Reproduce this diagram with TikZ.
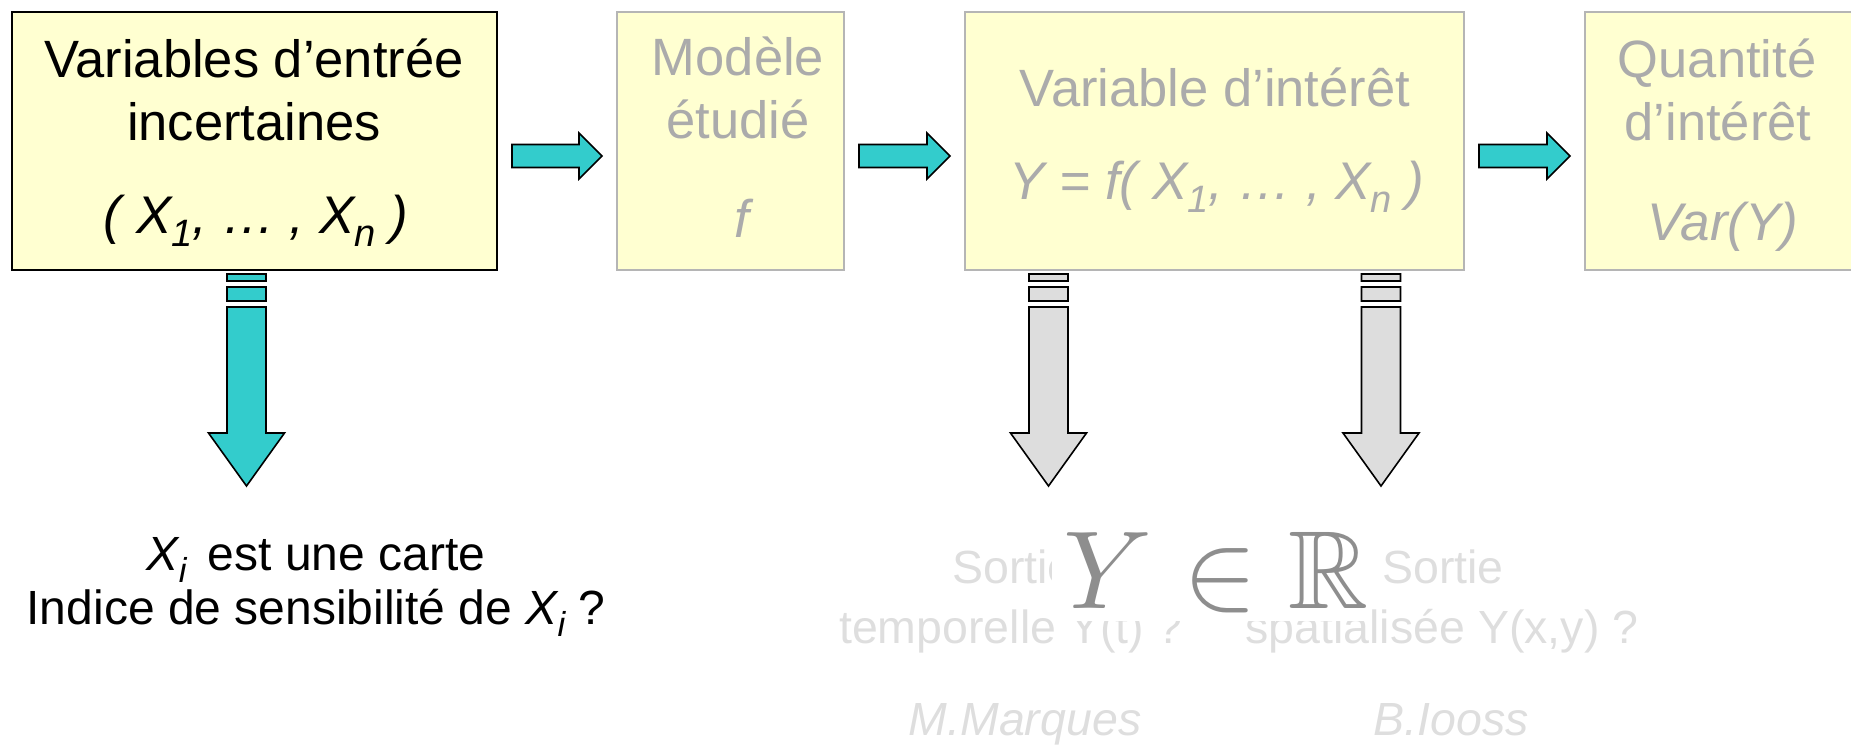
\documentclass[tikz,border=0pt]{standalone}
\usepackage{fontspec}
\usepackage{amssymb}
\setmainfont{Liberation Sans}
\usetikzlibrary{calc}
\definecolor{boxfill}{HTML}{FFFFD1}
\definecolor{fadetext}{HTML}{ABABAB}
\definecolor{fadeborder}{HTML}{B5B5B5}
\definecolor{lighttext}{HTML}{DEDEDE}
\definecolor{cyanarrow}{HTML}{33CCCC}
\definecolor{grayarrow}{HTML}{DDDDDD}
\definecolor{formulagray}{HTML}{8E8E8E}
\newcommand{\lowidx}[1]{\raisebox{-0.25em}{\scalebox{0.72}{#1}}}
% horizontal block arrow between two boxes
\newcommand{\hblock}[3]{%
  \draw[#3] let \p1=(#1.east), \p2=(#2.west) in
    (\x1+15pt,\y1-3.5pt) -- (\x2-38pt,\y1-3.5pt) -- (\x2-38pt,\y1+8pt) --
    (\x2-15pt,\y1-15pt) -- (\x2-38pt,\y1-38pt) -- (\x2-38pt,\y1-26.5pt) --
    (\x1+15pt,\y1-26.5pt) -- cycle;}
% vertical striped block arrow hanging from a coordinate
\newcommand{\vblock}[2]{%
  \draw[#2] let \p1=(#1) in
    (\x1-19.5pt,\y1-4pt) rectangle (\x1+19.5pt,\y1-11pt)
    (\x1-19.5pt,\y1-17pt) rectangle (\x1+19.5pt,\y1-31pt)
    (\x1-19.5pt,\y1-37pt) -- (\x1+19.5pt,\y1-37pt) -- (\x1+19.5pt,\y1-163pt) --
    (\x1+38pt,\y1-163pt) -- (\x1,\y1-216pt) -- (\x1-38pt,\y1-163pt) --
    (\x1-19.5pt,\y1-163pt) -- cycle;}
\tikzset{
  box/.style={line width=1.5pt, fill=boxfill, inner sep=0pt, outer sep=0pt,
              anchor=north west, minimum height=258pt},
  mainbox/.style={box, draw=black},
  fadebox/.style={box, draw=fadeborder},
  txt/.style={anchor=base, inner sep=0pt, outer sep=0pt},
  plaintxt/.style={txt, font=\fontsize{52.5}{60}\selectfont},
  mathtxt/.style={txt, font=\itshape\fontsize{53}{60}\selectfont},
  faded/.style={text=fadetext},
  bottomtxt/.style={txt, font=\fontsize{48}{56}\selectfont},
  lighttxt/.style={txt, text=lighttext, font=\fontsize{46.5}{54}\selectfont},
  cyanarr/.style={draw=black, line width=1.6pt, fill=cyanarrow, line join=miter},
  grayarr/.style={draw=black, line width=1.6pt, fill=grayarrow, line join=miter},
}
\begin{document}
\begin{tikzpicture}[x=1pt,y=-1pt]
\useasboundingbox (0,0) rectangle (1851,744);
% boxes
\node[mainbox, minimum width=485pt] (b1) at (12,12) {};
\node[fadebox, minimum width=227pt] (b2) at (617,12) {};
\node[fadebox, minimum width=499pt] (b3) at (965,12) {};
\node[fadebox, minimum width=272pt] (b4) at (1585,12) {};
% box texts
\node[plaintxt] (b1a) at (254,77) {Variables d’entrée};
\node[plaintxt] (b1b) at (254,140) {incertaines};
\node[mathtxt] (b1c) at (256,233) {( X\lowidx{1}, … , X\lowidx{n} )};
\node[plaintxt, faded] (b2a) at (738,75) {Modèle};
\node[plaintxt, faded] (b2b) at (738,138) {étudié};
\node[mathtxt, faded] (b2c) at (742,237) {f};
\node[plaintxt, faded] (b3a) at (1215,106) {Variable d’intérêt};
\node[mathtxt, faded] (b3b) at (1217,199) {Y = f( X\lowidx{1}, … , X\lowidx{n} )};
\node[plaintxt, faded] (b4a) at (1717,77) {Quantité};
\node[plaintxt, faded] (b4b) at (1718,140) {d’intérêt};
\node[mathtxt, faded] (b4c) at (1723,240) {Var(Y)};
% horizontal arrows
\hblock{b1}{b2}{cyanarr}
\hblock{b2}{b3}{cyanarr}
\hblock{b3}{b4}{cyanarr}
% vertical arrows
\coordinate (d1) at ($(b1.south)+(-8,0)$);
\coordinate (d2) at ($(b3.south)+(-166,0)$);
\coordinate (d3) at ($(b3.south)+(166.5,0)$);
\vblock{d1}{cyanarr}
\vblock{d2}{grayarr}
\vblock{d3}{grayarr}
% bottom left text
\node[bottomtxt] (q1) at (316,570) {\textit{X\lowidx{i}}\, est une carte};
\node[bottomtxt] (q2) at (316,624) {Indice de sensibilité de \textit{X\lowidx{i}} ?};
% faded bottom texts
\node[lighttxt] (s1) at (1013,583) {Sortie};
\node[lighttxt] (s2) at (1011,643) {temporelle Y(t) ?};
\node[lighttxt] (s3) at (1443,583) {Sortie};
\node[lighttxt] (s4) at (1442,643) {spatialisée Y(x,y) ?};
\node[lighttxt, font=\itshape\fontsize{46.5}{54}\selectfont] (a1) at (1025,735) {M.Marques};
\node[lighttxt, font=\itshape\fontsize{46.5}{54}\selectfont] (a2) at (1451,735) {B.Iooss};
% formula on white background
\fill[white] (1052,525) rectangle (1372,621);
\node[txt, text=formulagray] (fm) at (1216,608) {\scalebox{11.1}{$Y \in \mathbb{R}$}};
\end{tikzpicture}
\end{document}
